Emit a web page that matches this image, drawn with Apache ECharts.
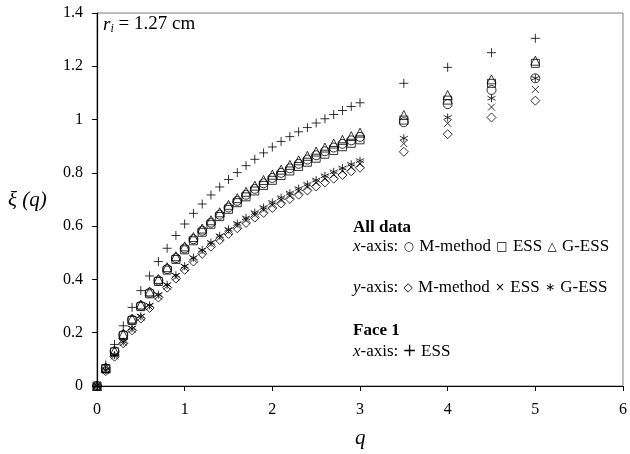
<!DOCTYPE html>
<html>
<head>
<meta charset="utf-8">
<script src="https://cdn.jsdelivr.net/npm/echarts@6/dist/echarts.min.js"></script>
<style>
  html, body { margin: 0; padding: 0; background: #fff; }
  #chart { width: 630px; height: 454px; }
</style>
</head>
<body>
<div id="chart"></div>
<script>
// Moment order q
const qValues = [0, 0.1, 0.2, 0.3, 0.4, 0.5, 0.6, 0.7, 0.8, 0.9, 1.0, 1.1, 1.2, 1.3, 1.4, 1.5,
  1.6, 1.7, 1.8, 1.9, 2.0, 2.1, 2.2, 2.3, 2.4, 2.5, 2.6, 2.7, 2.8, 2.9, 3.0, 3.5, 4.0, 4.5, 5.0];

// All data, x-axis
const xMMethod = [0, 0.066, 0.130, 0.192, 0.249, 0.301, 0.350, 0.396, 0.439, 0.480, 0.516, 0.551, 0.583, 0.613, 0.643, 0.670,
  0.695, 0.718, 0.740, 0.761, 0.781, 0.800, 0.817, 0.834, 0.850, 0.866, 0.881, 0.895, 0.909, 0.922, 0.935, 0.990, 1.058, 1.111, 1.155];
const xESS = [0, 0.065, 0.128, 0.189, 0.246, 0.298, 0.346, 0.392, 0.435, 0.475, 0.511, 0.545, 0.577, 0.607, 0.636, 0.663,
  0.688, 0.710, 0.732, 0.753, 0.772, 0.790, 0.807, 0.824, 0.840, 0.855, 0.870, 0.884, 0.898, 0.911, 0.924, 0.998, 1.073, 1.136, 1.211];
const xGESS = [0, 0.068, 0.132, 0.195, 0.253, 0.306, 0.355, 0.402, 0.446, 0.487, 0.524, 0.559, 0.591, 0.622, 0.652, 0.680,
  0.705, 0.729, 0.752, 0.773, 0.793, 0.812, 0.830, 0.847, 0.864, 0.880, 0.895, 0.910, 0.924, 0.938, 0.951, 1.017, 1.092, 1.151, 1.221];

// All data, y-axis
const yMMethod = [0, 0.056, 0.110, 0.160, 0.209, 0.253, 0.293, 0.332, 0.369, 0.403, 0.436, 0.467, 0.496, 0.523, 0.548, 0.571,
  0.592, 0.612, 0.632, 0.650, 0.668, 0.685, 0.702, 0.718, 0.734, 0.749, 0.764, 0.778, 0.792, 0.806, 0.819, 0.879, 0.945, 1.008, 1.071];
const yESS = [0, 0.058, 0.113, 0.163, 0.213, 0.258, 0.298, 0.338, 0.375, 0.410, 0.444, 0.476, 0.505, 0.532, 0.557, 0.580,
  0.602, 0.622, 0.642, 0.661, 0.679, 0.697, 0.714, 0.731, 0.747, 0.763, 0.778, 0.793, 0.807, 0.821, 0.834, 0.910, 0.986, 1.047, 1.113];
const yGESS = [0, 0.060, 0.116, 0.167, 0.217, 0.262, 0.303, 0.343, 0.380, 0.416, 0.450, 0.482, 0.511, 0.539, 0.564, 0.588,
  0.610, 0.631, 0.651, 0.670, 0.689, 0.707, 0.724, 0.741, 0.757, 0.773, 0.789, 0.804, 0.818, 0.832, 0.846, 0.930, 1.008, 1.080, 1.155];

// Face 1, x-axis
const face1ESS = [0, 0.079, 0.156, 0.226, 0.295, 0.358, 0.413, 0.467, 0.517, 0.565, 0.608, 0.648, 0.683, 0.717, 0.747, 0.775,
  0.801, 0.827, 0.851, 0.875, 0.897, 0.918, 0.936, 0.954, 0.970, 0.987, 1.003, 1.019, 1.034, 1.049, 1.063, 1.136, 1.196, 1.251, 1.305];

const xTicks = [0, 1, 2, 3, 4, 5, 6];
const yTicks = [0, 0.2, 0.4, 0.6, 0.8, 1, 1.2, 1.4];

const SERIF = '"Liberation Serif", "DejaVu Serif", serif';

const PLUS = 'path://M5,0L5,10M0,5L10,5';
const CROSS = 'path://M0,0L10,10M10,0L0,10';
const STAR = 'path://M5,0L5,10M0.67,2.5L9.33,7.5M0.67,7.5L9.33,2.5';

function pairs(ys) { return qValues.map((q, i) => [q, ys[i]]); }

function scatter(name, ys, symbol, size) {
  return {
    name: name,
    type: 'scatter',
    data: pairs(ys),
    symbol: symbol,
    symbolSize: size,
    itemStyle: { color: 'transparent', borderColor: '#000', borderWidth: 1 },
    emphasis: { disabled: true },
    silent: true
  };
}

// One line of the key, with italic axis letters and small marker glyphs
function richLine(text, top, bold) {
  return {
    type: 'text', left: 353, top: top,
    style: {
      text: text,
      font: (bold ? 'bold ' : '') + '17px ' + SERIF, fill: '#000',
      rich: {
        i: { fontFamily: SERIF, fontStyle: 'italic', fontSize: 17, fill: '#000' },
        s: { fontFamily: '"DejaVu Sans", sans-serif', fontSize: 12, fill: '#000', padding: [0, 1, 0, 1] },
        p: { fontFamily: '"DejaVu Sans", sans-serif', fontSize: 17, fill: '#000' }
      }
    }
  };
}

const chart = echarts.init(document.getElementById('chart'), null, { renderer: 'canvas' });

chart.setOption({
  animation: false,
  backgroundColor: '#fff',
  grid: {
    left: 97, right: 3, top: 13, bottom: 68,
    show: true, borderColor: '#7f7f7f', borderWidth: 1
  },
  xAxis: {
    type: 'value', min: xTicks[0], max: xTicks[xTicks.length - 1], interval: 1,
    axisLine: { show: true, lineStyle: { color: '#000', width: 1.2 } },
    axisTick: { show: true, inside: false, length: 5, lineStyle: { color: '#000' } },
    axisLabel: { color: '#000', fontFamily: SERIF, fontSize: 16, margin: 16 },
    splitLine: { show: false }
  },
  yAxis: {
    type: 'value', min: yTicks[0], max: yTicks[yTicks.length - 1], interval: 0.2,
    axisLine: { show: true, lineStyle: { color: '#000', width: 1.2 } },
    axisTick: { show: true, inside: false, length: 5, lineStyle: { color: '#000' } },
    axisLabel: { color: '#000', fontFamily: SERIF, fontSize: 16, margin: 14 },
    splitLine: { show: false }
  },
  series: [
    scatter('x-axis M-method', xMMethod, 'circle', 9),
    scatter('x-axis ESS', xESS, 'rect', 8),
    scatter('x-axis G-ESS', xGESS, 'triangle', 9),
    scatter('y-axis M-method', yMMethod, 'diamond', 9),
    scatter('y-axis ESS', yESS, CROSS, 7),
    scatter('y-axis G-ESS', yGESS, STAR, 8),
    scatter('Face 1 x-axis ESS', face1ESS, PLUS, 9)
  ],
  graphic: [
    {
      type: 'text', left: 103, top: 15,
      style: {
        text: '{i|r}{s|i} = 1.27 cm',
        rich: {
          i: { fontFamily: SERIF, fontStyle: 'italic', fontSize: 19, fill: '#000' },
          s: { fontFamily: SERIF, fontStyle: 'italic', fontSize: 12, fill: '#000', padding: [9, 0, 0, 0] }
        },
        font: '19px ' + SERIF, fill: '#000'
      }
    },
    {
      type: 'text', left: 8, top: 190,
      style: {
        text: 'ξ ({i|q})',
        font: 'italic 21px ' + SERIF, fill: '#000',
        rich: { i: { fontFamily: SERIF, fontStyle: 'italic', fontSize: 21, fill: '#000' } }
      }
    },
    {
      type: 'text', left: 355, top: 428,
      style: { text: 'q', font: 'italic 21px ' + SERIF, fill: '#000' }
    },
    richLine('All data', 219, true),
    richLine('{i|x}-axis: {s|○} M-method {s|□} ESS {s|△} G-ESS', 238, false),
    richLine('{i|y}-axis: {s|◇} M-method {s|×} ESS {s|∗} G-ESS', 279, false),
    richLine('Face 1', 322, true),
    richLine('{i|x}-axis: {p|+} ESS', 343, false)
  ]
});
</script>
</body>
</html>
